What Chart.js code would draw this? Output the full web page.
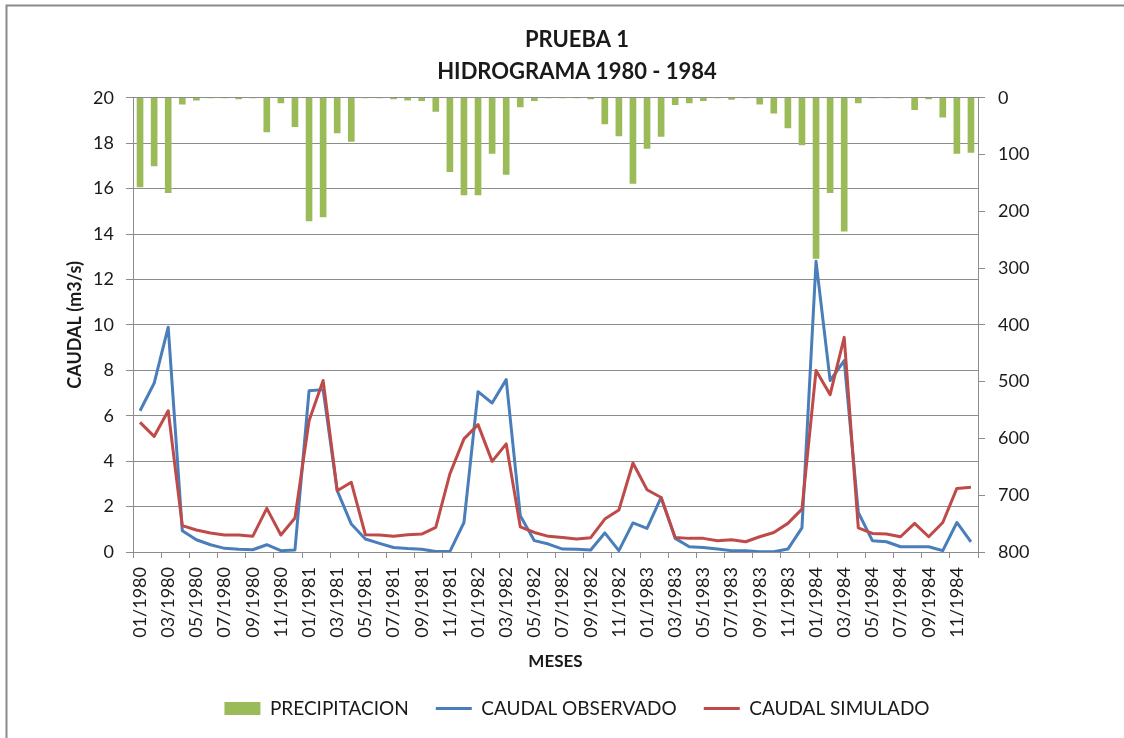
<!DOCTYPE html>
<html>
<head>
<meta charset="utf-8">
<script src="https://cdn.jsdelivr.net/npm/chart.js@4.4.0/dist/chart.umd.min.js"></script>
<style>
  html, body { margin: 0; padding: 0; background: #fff; }
  #wrap { width: 1124px; height: 738px; position: relative; }
</style>
</head>
<body>
<div id="wrap"><canvas id="hidrograma" width="1124" height="738"></canvas></div>
<script>
const meses = [
    '01/1980', '02/1980', '03/1980', '04/1980', '05/1980', '06/1980', '07/1980', '08/1980', '09/1980', '10/1980', '11/1980', '12/1980',
    '01/1981', '02/1981', '03/1981', '04/1981', '05/1981', '06/1981', '07/1981', '08/1981', '09/1981', '10/1981', '11/1981', '12/1981',
    '01/1982', '02/1982', '03/1982', '04/1982', '05/1982', '06/1982', '07/1982', '08/1982', '09/1982', '10/1982', '11/1982', '12/1982',
    '01/1983', '02/1983', '03/1983', '04/1983', '05/1983', '06/1983', '07/1983', '08/1983', '09/1983', '10/1983', '11/1983', '12/1983',
    '01/1984', '02/1984', '03/1984', '04/1984', '05/1984', '06/1984', '07/1984', '08/1984', '09/1984', '10/1984', '11/1984', '12/1984'
];

// precipitacion (mm), eje derecho invertido
const precipitacion = [
    157, 120, 167, 11, 4, 0, 0, 2, 0, 60, 9, 51,
    217, 210, 62, 77, 0, 0, 2, 4, 5, 24, 130, 171,
    171, 98, 135, 16, 5, 0, 0, 0, 2, 46, 67, 151,
    89, 68, 12, 9, 5, 0, 3, 0, 11, 27, 53, 83,
    283, 167, 235, 9, 0, 0, 0, 21, 2, 34, 98, 96
];

// caudales (m3/s)
const caudalObservado = [
    6.22, 7.43, 9.9, 0.94, 0.54, 0.32, 0.16, 0.12, 0.1, 0.32, 0.06, 0.09,
    7.1, 7.15, 2.7, 1.23, 0.57, 0.38, 0.2, 0.15, 0.12, 0.02, 0.02, 1.3,
    7.06, 6.56, 7.59, 1.6, 0.5, 0.35, 0.13, 0.12, 0.09, 0.84, 0.06, 1.28,
    1.04, 2.4, 0.6, 0.23, 0.2, 0.13, 0.06, 0.06, 0.01, 0.01, 0.13, 1.06,
    12.8, 7.55, 8.43, 1.74, 0.5, 0.45, 0.23, 0.23, 0.23, 0.06, 1.3, 0.45
];

const caudalSimulado = [
    5.71, 5.09, 6.22, 1.16, 0.97, 0.84, 0.75, 0.75, 0.69, 1.92, 0.75, 1.5,
    5.78, 7.55, 2.7, 3.07, 0.76, 0.75, 0.69, 0.76, 0.79, 1.08, 3.44, 4.98,
    5.61, 3.99, 4.76, 1.11, 0.86, 0.69, 0.64, 0.57, 0.63, 1.45, 1.85, 3.92,
    2.74, 2.4, 0.64, 0.6, 0.6, 0.5, 0.54, 0.45, 0.67, 0.86, 1.26, 1.89,
    7.99, 6.93, 9.45, 1.06, 0.82, 0.79, 0.67, 1.26, 0.67, 1.3, 2.8, 2.85
];

const tituloLineas = ['PRUEBA 1', 'HIDROGRAMA 1980 - 1984'];

const gris = '#8c8c8c';
const texto = '#1a1a1a';
const fuente = 'Lato, "Open Sans", sans-serif';

// marco gris del grafico
const marco = {
    id: 'marco',
    afterDraw(chart) {
        const c = chart.ctx;
        c.save();
        c.strokeStyle = '#8a8a8a';
        c.lineWidth = 2;
        c.strokeRect(6.5, 5.5, chart.width + 20, chart.height + 20);
        c.restore();
    }
};

const ctx = document.getElementById('hidrograma').getContext('2d');

const chart = new Chart(ctx, {
    data: {
        labels: meses,
        datasets: [
            {
                type: 'bar',
                label: 'PRECIPITACION',
                data: precipitacion,
                yAxisID: 'y1',
                backgroundColor: '#9bbb59',
                borderWidth: 0,
                barThickness: 6,
                pointStyle: 'rect',
                order: 3
            },
            {
                type: 'line',
                label: 'CAUDAL OBSERVADO',
                data: caudalObservado,
                yAxisID: 'y',
                borderColor: '#4a7ebb',
                backgroundColor: '#4a7ebb',
                borderWidth: 3,
                pointRadius: 0,
                tension: 0,
                borderJoinStyle: 'round',
                pointStyle: 'line',
                order: 2
            },
            {
                type: 'line',
                label: 'CAUDAL SIMULADO',
                data: caudalSimulado,
                yAxisID: 'y',
                borderColor: '#be4b48',
                backgroundColor: '#be4b48',
                borderWidth: 3,
                pointRadius: 0,
                tension: 0,
                borderJoinStyle: 'round',
                pointStyle: 'line',
                order: 1
            }
        ]
    },
    options: {
        responsive: false,
        animation: false,
        layout: {
            padding: { left: 50, right: 20, top: 10, bottom: 10 }
        },
        plugins: {
            title: {
                display: true,
                text: tituloLineas,
                color: texto,
                font: { family: fuente, size: 22, weight: 'bold', lineHeight: 1.45 },
                padding: { top: 14, bottom: 10 }
            },
            legend: {
                position: 'bottom',
                labels: {
                    usePointStyle: true,
                    pointStyleWidth: 36,
                    boxHeight: 13,
                    padding: 27,
                    color: texto,
                    font: { family: fuente, size: 19 },
                    sort: (a, b) => a.datasetIndex - b.datasetIndex
                }
            },
            tooltip: { enabled: false }
        },
        scales: {
            x: {
                offset: true,
                grid: {
                    drawOnChartArea: false,
                    drawTicks: true,
                    tickLength: 6,
                    color: c => (c.type !== 'tick' || c.index % 2 === 0) ? gris : 'rgba(0,0,0,0)'
                },
                border: { display: true, color: gris },
                ticks: {
                    autoSkip: false,
                    maxRotation: 90,
                    minRotation: 90,
                    padding: 9,
                    color: texto,
                    font: { family: fuente, size: 18 },
                    callback: function (val, index) {
                        return index % 2 === 0 ? this.getLabelForValue(val) : '';
                    }
                },
                title: {
                    display: true,
                    text: 'MESES',
                    color: texto,
                    font: { family: fuente, size: 17, weight: 'bold' },
                    padding: { top: 12, bottom: 0 }
                },
                afterFit: s => { s.height = 120; }
            },
            y: {
                position: 'left',
                min: 0,
                max: 20,
                ticks: {
                    stepSize: 2,
                    padding: 12,
                    color: texto,
                    font: { family: fuente, size: 18 }
                },
                grid: { color: gris, tickLength: 7 },
                border: { display: true, color: gris },
                title: {
                    display: true,
                    text: 'CAUDAL (m3/s)',
                    color: texto,
                    font: { family: fuente, size: 18, weight: 'bold' },
                    padding: { top: 14, bottom: 6 }
                },
                afterFit: s => { s.width = 83; }
            },
            y1: {
                position: 'right',
                reverse: true,
                min: 0,
                max: 800,
                ticks: {
                    stepSize: 100,
                    padding: 13,
                    color: texto,
                    font: { family: fuente, size: 18 }
                },
                grid: { drawOnChartArea: false, color: gris, tickLength: 7 },
                border: { display: true, color: gris },
                afterFit: s => { s.width = 126; }
            }
        }
    },
    plugins: [marco]
});
</script>
</body>
</html>
